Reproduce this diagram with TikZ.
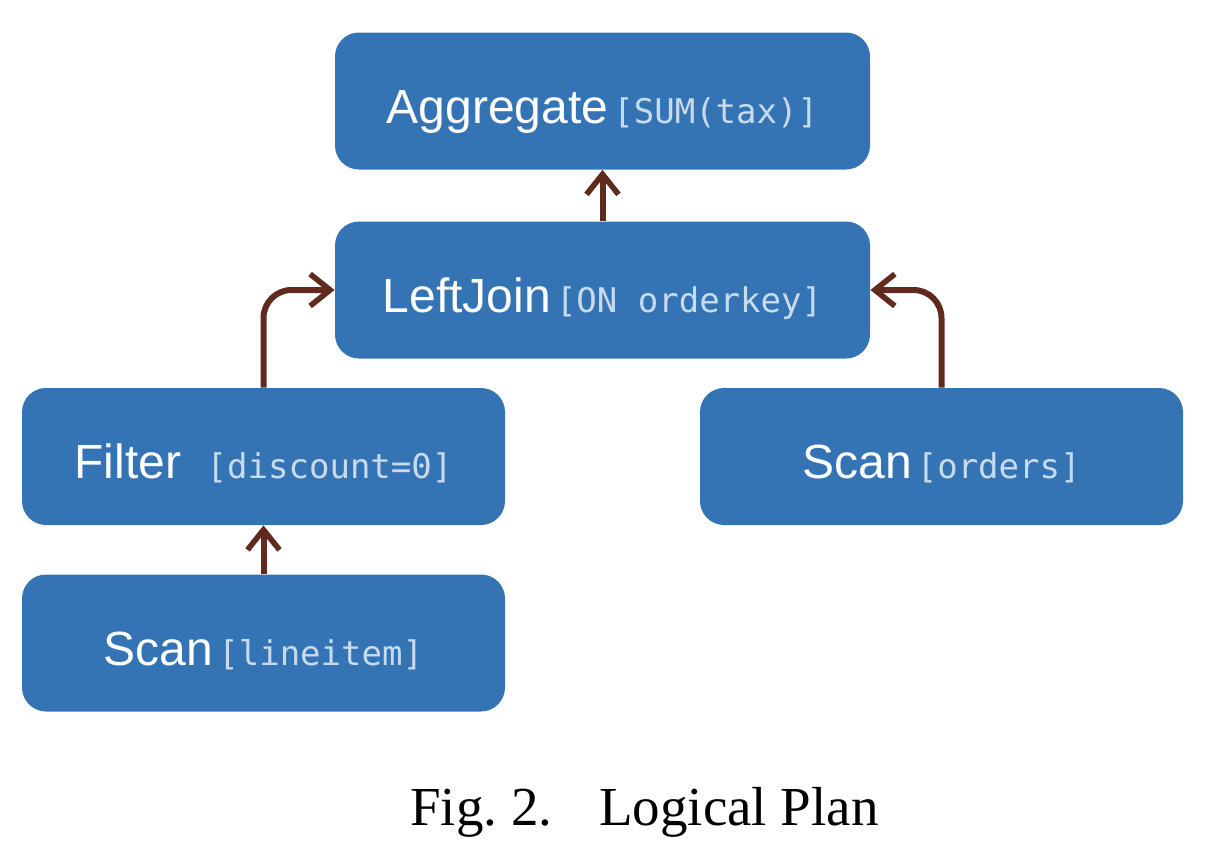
\documentclass[tikz,border=0pt]{standalone}
\usepackage{fontspec}
\setmainfont{Liberation Serif}
\setsansfont{Liberation Sans}
\setmonofont{DejaVu Sans Mono}
\usepackage{xcolor}
\usepackage{tikz}
\usetikzlibrary{arrows.meta}

\definecolor{opblue}{RGB}{52,116,181}
\definecolor{argtext}{RGB}{200,219,236}
\definecolor{flowbrown}{RGB}{96,42,30}

\newcommand{\opname}[2]{\raisebox{-11pt}[0pt][0pt]{{\sffamily\fontsize{24}{28}\selectfont #1}
  {\ttfamily\fontsize{17}{20}\selectfont\color{argtext}#2}}}

\begin{document}
\begin{tikzpicture}[x=0.5pt,y=-0.5pt,
    op/.style={fill=opblue,text=white,rounded corners=12pt,inner sep=0pt,
      minimum height=68.5pt},
    flow/.style={draw=flowbrown,line width=3pt,
      -{Straight Barb[length=10pt,width=16pt,line width=2.8pt]}}]
  \useasboundingbox (0,0) rectangle (1206,862);

  \node[op,minimum width=267.5pt] (agg) at (602.5,101)
    {\opname{Aggregate}{[SUM(tax)]}};
  \node[op,minimum width=267.5pt] (join) at (602.5,290)
    {\opname{LeftJoin}{[ON orderkey]}};
  \node[op,minimum width=241.5pt] (filter) at (263.5,456.5)
    {\opname{Filter}{\ [discount=0]}};
  \node[op,minimum width=241.5pt] (orders) at (941.5,456.5)
    {\opname{Scan}{[orders]}};
  \node[op,minimum width=241.5pt] (lineitem) at (263.5,643)
    {\opname{Scan}{[lineitem]}};

  \draw[flow] (lineitem.north) -- (filter.south);
  \draw[flow,rounded corners=14pt] (filter.north) |- (join.west);
  \draw[flow,rounded corners=14pt] (orders.north) |- (join.east);
  \draw[flow] (join.north) -- (agg.south);

  \node[anchor=base,font=\fontsize{27.5}{32}\selectfont] (caption) at (644.5,825)
    {Fig.~2.\hspace{0.85em}Logical Plan};
\end{tikzpicture}
\end{document}
